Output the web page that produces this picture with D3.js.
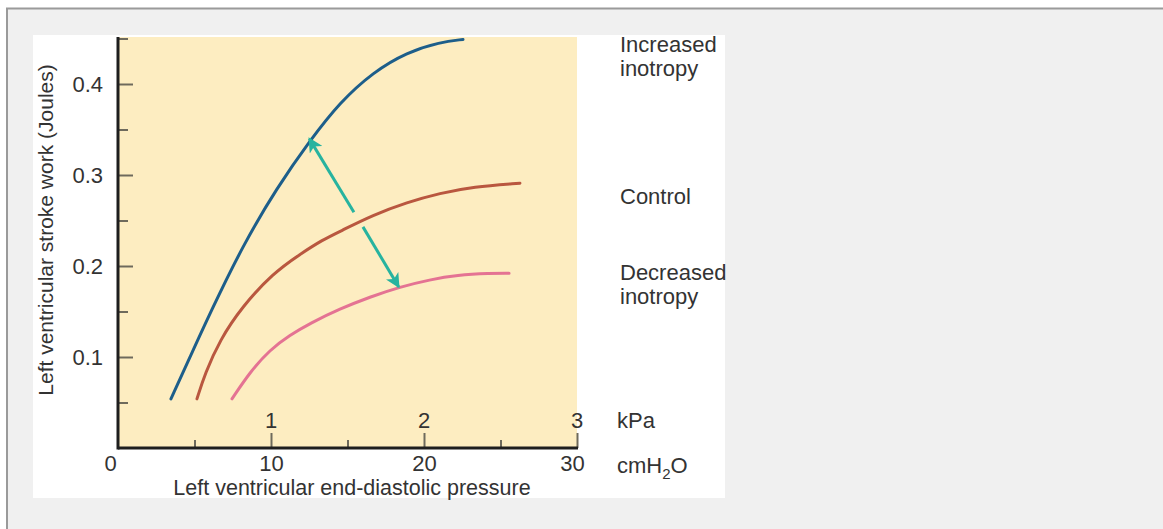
<!DOCTYPE html>
<html>
<head>
<meta charset="utf-8">
<script src="https://cdn.jsdelivr.net/npm/d3@7"></script>
<style>
  html, body { margin: 0; padding: 0; background: #ffffff; }
  svg { display: block; }
  text { font-family: "Liberation Sans", Arial, sans-serif; fill: #333; }
</style>
</head>
<body>
<svg id="chart" width="1163" height="529"></svg>
<script>
// ---- data (LVEDP in cmH2O, stroke work in Joules) ----
const increasedX = [3.46, 4.71, 6.01, 8.17, 10.39, 12.55, 14.51, 16.67, 18.89, 21.05, 22.55];
const increasedY = [0.054, 0.100, 0.148, 0.223, 0.286, 0.338, 0.380, 0.413, 0.435, 0.446, 0.449];
const controlX = [5.16, 5.69, 6.67, 8.10, 10.13, 11.90, 13.40, 14.51, 16.67, 18.89, 21.05, 23.20, 26.27];
const controlY = [0.054, 0.082, 0.119, 0.155, 0.192, 0.213, 0.229, 0.238, 0.256, 0.270, 0.280, 0.287, 0.291];
const decreasedX = [7.45, 8.63, 9.93, 11.24, 12.55, 14.51, 16.47, 18.43, 20.39, 22.16, 24.31, 25.56];
const decreasedY = [0.054, 0.0835, 0.108, 0.124, 0.137, 0.153, 0.166, 0.177, 0.185, 0.190, 0.192, 0.192];
const seriesNames = ["Increased inotropy", "Control", "Decreased inotropy"];
const cmTicks = [0, 10, 20, 30];
const cmMinorTicks = [5, 15, 25];
const kpaTicks = [1, 2, 3];
const yMajorTicks = [0.1, 0.2, 0.3, 0.4];
const yMinorTicks = [0.05, 0.15, 0.25, 0.35, 0.45];
// arrows: [fromX, fromY, toX, toY]
const arrowUp = [15.42, 0.259, 12.50, 0.340];
const arrowDown = [16.01, 0.243, 18.35, 0.177];

const svg = d3.select("#chart");

// page frame
svg.append("rect").attr("x", 6).attr("y", 8).attr("width", 1163).attr("height", 529).attr("fill", "#f0f0f0");
svg.append("line").attr("x1", 6).attr("x2", 1163).attr("y1", 8.5).attr("y2", 8.5).attr("stroke", "#9a9a9a").attr("stroke-width", 2);
svg.append("line").attr("x1", 7).attr("x2", 7).attr("y1", 8).attr("y2", 529).attr("stroke", "#9a9a9a").attr("stroke-width", 2);
svg.append("rect").attr("x", 33).attr("y", 35).attr("width", 692).attr("height", 463).attr("fill", "#ffffff");

const x = d3.scaleLinear().domain([0, 30]).range([118, 577]);
const xk = d3.scaleLinear().domain([0, 3]).range([118, 577]);
const y = d3.scaleLinear().domain([0, 0.45]).range([448, 38.5]);

// plot background
svg.append("rect").attr("x", x(0)).attr("y", 37).attr("width", x(30) - x(0)).attr("height", y(0) - 37).attr("fill", "#fdedc1");

const tickColor = "#6e6a5c";
const FS = 22;

// y axis minor ticks
const yMinor = svg.append("g").attr("transform", `translate(${x(0)},0)`)
  .call(d3.axisLeft(y).tickValues(yMinorTicks).tickSize(-10).tickFormat(""));
yMinor.select(".domain").remove();
yMinor.selectAll(".tick line").attr("stroke", tickColor).attr("stroke-width", 2);

// y axis major ticks
const yMajor = svg.append("g").attr("transform", `translate(${x(0)},0)`)
  .call(d3.axisLeft(y).tickValues(yMajorTicks).tickSize(-15).tickPadding(15).tickFormat(d3.format(".1f")));
yMajor.select(".domain").remove();
yMajor.selectAll(".tick line").attr("stroke", tickColor).attr("stroke-width", 2);
yMajor.selectAll(".tick text").attr("font-size", FS).attr("fill", "#333")
  .attr("font-family", "Liberation Sans, Arial, sans-serif");

// x axis minor ticks
const xMinor = svg.append("g").attr("transform", `translate(0,${y(0)})`)
  .call(d3.axisBottom(x).tickValues(cmMinorTicks).tickSize(-8).tickFormat(""));
xMinor.select(".domain").remove();
xMinor.selectAll(".tick line").attr("stroke", tickColor).attr("stroke-width", 2);

// x axis major ticks (cmH2O labels)
const xMajor = svg.append("g").attr("transform", `translate(0,${y(0)})`)
  .call(d3.axisBottom(x).tickValues(cmTicks).tickSize(-15).tickPadding(8));
xMajor.select(".domain").remove();
xMajor.selectAll(".tick line").attr("stroke", d => d === 0 ? "none" : tickColor).attr("stroke-width", 2);
xMajor.selectAll(".tick text").attr("font-size", FS).attr("fill", "#333")
  .attr("font-family", "Liberation Sans, Arial, sans-serif")
  .attr("dy", "0.68em")
  .attr("dx", d => d === 0 ? -8 : (d === 30 ? -5 : 0));

// kPa labels (inside plot)
svg.append("g").selectAll("text").data(kpaTicks).join("text")
  .attr("x", d => xk(d)).attr("y", 428)
  .attr("text-anchor", "middle").attr("font-size", FS).text(d => d);

// axis lines
svg.append("line").attr("x1", x(0)).attr("x2", x(0)).attr("y1", 37).attr("y2", y(0) + 1.5)
  .attr("stroke", "#1e1e1e").attr("stroke-width", 3);
svg.append("line").attr("x1", x(0)).attr("x2", x(30) + 1).attr("y1", y(0)).attr("y2", y(0))
  .attr("stroke", "#1e1e1e").attr("stroke-width", 3);

// unit labels
svg.append("text").attr("x", 617).attr("y", 428).attr("font-size", FS).text("kPa");
const cm = svg.append("text").attr("x", 617).attr("y", 473).attr("font-size", FS);
cm.append("tspan").text("cmH");
cm.append("tspan").attr("font-size", 15).attr("dy", 6).text("2");
cm.append("tspan").attr("dy", -6).text("O");

// axis titles
svg.append("text").attr("x", 352).attr("y", 495).attr("text-anchor", "middle").attr("font-size", 21.5)
  .text("Left ventricular end-diastolic pressure");
svg.append("text").attr("transform", "translate(53,230) rotate(-90)").attr("text-anchor", "middle").attr("font-size", 21)
  .text("Left ventricular stroke work (Joules)");

// curves
const line = d3.line().x(d => x(d[0])).y(d => y(d[1])).curve(d3.curveBasis);
const series = [
  { xs: increasedX, ys: increasedY, color: "#1d5e8a" },
  { xs: controlX, ys: controlY, color: "#b9573f" },
  { xs: decreasedX, ys: decreasedY, color: "#e47393" }
];
series.forEach(s => {
  svg.append("path").datum(s.xs.map((v, i) => [v, s.ys[i]]))
    .attr("d", line).attr("fill", "none").attr("stroke", s.color)
    .attr("stroke-width", 3).attr("stroke-linecap", "round");
});

// arrows
const teal = "#27b39f";
svg.append("defs").append("marker").attr("id", "ah")
  .attr("viewBox", "0 0 10 10").attr("refX", 9).attr("refY", 5)
  .attr("markerWidth", 5.5).attr("markerHeight", 4.8).attr("orient", "auto")
  .attr("markerUnits", "strokeWidth")
  .append("path").attr("d", "M0,0 L10,5 L0,10 L2.5,5 Z").attr("fill", teal);
[arrowUp, arrowDown].forEach(a => {
  svg.append("line").attr("x1", x(a[0])).attr("y1", y(a[1])).attr("x2", x(a[2])).attr("y2", y(a[3]))
    .attr("stroke", teal).attr("stroke-width", 3).attr("marker-end", "url(#ah)");
});

// series labels (baselines)
const labelPos = [[52, 76], [204], [280, 304]];
const labelLines = [["Increased", "inotropy"], ["Control"], ["Decreased", "inotropy"]];
labelLines.forEach((lines, i) => {
  lines.forEach((t, j) => {
    svg.append("text").attr("x", 620).attr("y", labelPos[i][j])
      .attr("font-size", FS).text(t);
  });
});
</script>
</body>
</html>
